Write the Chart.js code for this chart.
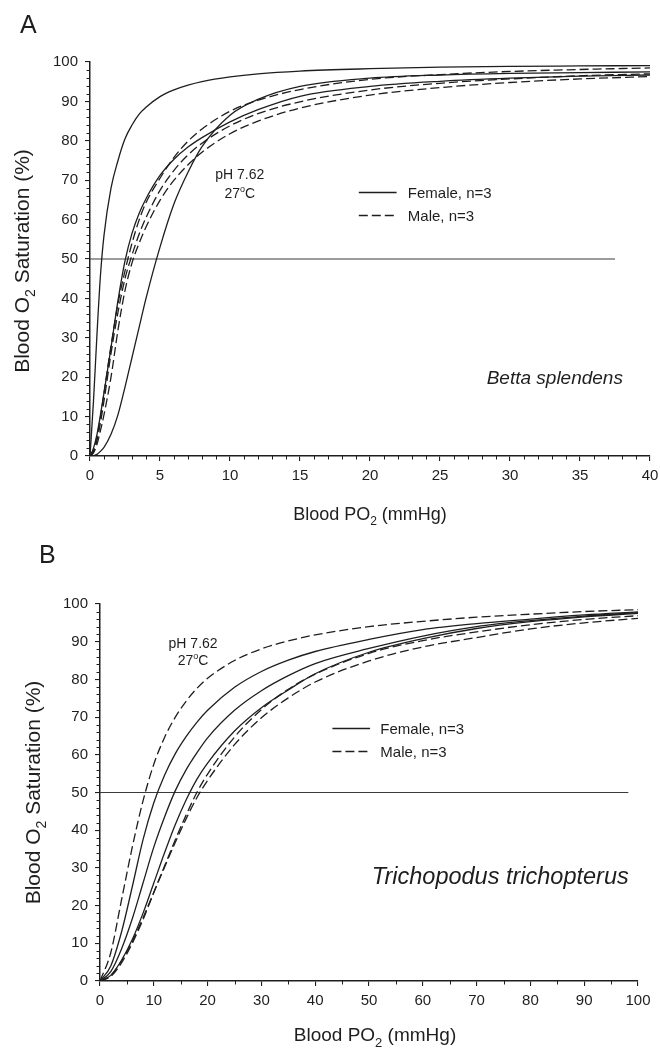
<!DOCTYPE html>
<html><head><meta charset="utf-8">
<script src="https://cdn.jsdelivr.net/npm/chart.js@4.4.1/dist/chart.umd.min.js"></script>
<style>
html,body{margin:0;padding:0;background:#fff;}
#wrap{position:relative;width:660px;height:1048px;overflow:hidden;background:#fff;}
#wrapA{position:absolute;left:0;top:0;width:660px;height:525px;}
#wrapB{position:absolute;left:0;top:525px;width:660px;height:523px;}
</style></head><body>
<div id="wrap"><div id="wrapA"><canvas id="cA" width="660" height="525"></canvas></div><div id="wrapB"><canvas id="cB" width="660" height="523"></canvas></div></div>
<script>
// ---------------- Panel A: Betta splendens ----------------
const pA_x = [0, 0.25, 0.5, 0.75, 1, 1.5, 2, 2.5, 3, 3.5, 4, 5, 6, 7, 8, 10, 12, 15, 20, 25, 30, 35, 40];
const A_female1 = [0, 14, 31, 46, 56, 68, 75, 80.5, 84, 86.7, 88.5, 91.2, 92.9, 94.1, 95, 96.2, 97, 97.7, 98.3, 98.7, 98.9, 99.0, 99.1];
const A_female2 = [0, 2, 5.5, 10.5, 16, 27.5, 39.5, 49.5, 56.5, 61.5, 65.3, 71.2, 75.3, 78.4, 80.8, 84.8, 87.9, 91.3, 93.8, 95.1, 95.9, 96.4, 96.7];
const A_female3 = [0, 0.1, 0.4, 1.2, 2.2, 5.5, 10.5, 17.5, 25, 32.5, 40, 53, 64, 72, 78.5, 86.5, 90.5, 93.8, 95.9, 96.7, 97.1, 97.3, 97.5];
const A_male1 = [0, 1.5, 5, 10, 16, 28, 38.7, 47, 54, 59.8, 64.3, 70.5, 75.8, 79.9, 83, 87.5, 90.3, 93.0, 95.6, 96.8, 97.6, 98.1, 98.5];
const A_male2 = [0, 1, 4, 8.5, 14, 26, 36.5, 45, 51, 56.2, 60.5, 67.4, 72.5, 76.4, 79.4, 83.8, 86.9, 89.9, 92.9, 94.6, 95.7, 96.5, 97.0];
const A_male3 = [0, 0.8, 3, 6.5, 10.5, 20, 32, 42, 49, 53.9, 58.1, 64.9, 70, 73.9, 77.1, 81.8, 85, 88.3, 91.6, 93.5, 94.8, 95.7, 96.3];
const A_ref_x = [0, 37.5];
const A_ref_y = [50, 50];
const A_xTicks = [0, 5, 10, 15, 20, 25, 30, 35, 40];
const A_yTicks = [0, 10, 20, 30, 40, 50, 60, 70, 80, 90, 100];

// ---------------- Panel B: Trichopodus trichopterus ----------------
const pB_x = [0, 2, 4, 6, 8, 10, 12, 14, 16, 18, 20, 25, 30, 35, 40, 50, 60, 70, 80, 90, 100];
const B_female1 = [0, 4, 13, 25, 37.5, 47.3, 54.6, 60.3, 64.8, 68.6, 71.8, 77.9, 82.1, 85.1, 87.4, 90.6, 93.2, 94.8, 96.0, 97.1, 97.9];
const B_female2 = [0, 2.5, 8.5, 16.5, 26, 35.5, 43.5, 50.5, 56, 60.5, 64.5, 71.8, 77, 81, 84.2, 88.2, 91.5, 94, 95.6, 96.8, 97.7];
const B_female3 = [0, 1.5, 5.5, 11, 18, 26, 34, 41.5, 48, 53.5, 57.8, 66.3, 72.5, 77.2, 81.5, 87.2, 90.8, 93.5, 95.3, 96.6, 97.5];
const B_male1 = [0, 7.5, 21.5, 35.5, 47.8, 57.5, 64.6, 70, 74.2, 77.6, 80.3, 85, 88.1, 90.2, 91.8, 94, 95.4, 96.5, 97.3, 98.0, 98.5];
const B_male2 = [0, 1.2, 4.8, 10, 16.3, 23.5, 30.5, 37.5, 44, 50, 54.9, 64.7, 72, 77.4, 81.4, 86.9, 90.3, 92.6, 94.5, 95.9, 96.9];
const B_male3 = [0, 1.5, 5.3, 10.5, 16.8, 23.5, 30.2, 36.8, 43, 48.6, 53.2, 62.7, 69.8, 75.1, 79.3, 84.9, 88.6, 91.1, 93.4, 95.0, 96.2];
const B_ref_x = [0, 98.2];
const B_ref_y = [50, 50];
const B_xTicks = [0, 10, 20, 30, 40, 50, 60, 70, 80, 90, 100];
const B_yTicks = [0, 10, 20, 30, 40, 50, 60, 70, 80, 90, 100];

const legendLabels = ['Female, n=3', 'Male, n=3'];
const condLine1 = 'pH 7.62';
const speciesA = 'Betta splendens';
const speciesB = 'Trichopodus trichopterus';

// ---------------- helpers ----------------
const FAM = '"Liberation Sans", Arial, Helvetica, sans-serif';
const INK = '#1e1e1e';
const DASH = [9, 4];

function pts(xs, ys) { return xs.map((x, i) => ({ x: x, y: ys[i] })); }
function curve(xs, ys, dashed, label) {
  return { label: label, data: pts(xs, ys), borderColor: INK, borderWidth: 1.3,
    borderDash: dashed ? DASH : [], pointRadius: 0, fill: false,
    cubicInterpolationMode: 'monotone', borderCapStyle: 'butt' };
}
function refLine(xs, ys) {
  return { label: 'ref', data: pts(xs, ys), borderColor: '#3a3a3a', borderWidth: 1.1,
    pointRadius: 0, fill: false, tension: 0 };
}

function drawRich(ctx, parts, x, y, size, align, italic) {
  const it = italic ? 'italic ' : '';
  const small = Math.round(size * 0.66);
  let w = 0;
  parts.forEach(p => { ctx.font = it + (p[1] === 'n' ? size : small) + 'px ' + FAM; p.w = ctx.measureText(p[0]).width; w += p.w; });
  let cx = align === 'center' ? x - w / 2 : (align === 'right' ? x - w : x);
  ctx.textBaseline = 'alphabetic';
  ctx.textAlign = 'left';
  parts.forEach(p => {
    ctx.font = it + (p[1] === 'n' ? size : small) + 'px ' + FAM;
    const dy = p[1] === 'sub' ? size * 0.30 : (p[1] === 'sup' ? -size * 0.42 : 0);
    ctx.fillText(p[0], cx, y + dy);
    cx += p.w;
  });
}

const decorPlugin = {
  id: 'decor',
  afterDraw(chart, args, o) {
    const ctx = chart.ctx, xs = chart.scales.x, ys = chart.scales.y;
    ctx.save();
    ctx.fillStyle = INK; ctx.strokeStyle = INK;
    // minor ticks
    ctx.lineWidth = 1;
    for (let v = xs.min; v <= xs.max + 1e-9; v += o.xMinor) {
      if (Math.abs(v / o.xMajor - Math.round(v / o.xMajor)) < 1e-6) continue;
      const px = Math.round(xs.getPixelForValue(v)) + 0.5;
      ctx.beginPath(); ctx.moveTo(px, ys.bottom); ctx.lineTo(px, ys.bottom + 3.5); ctx.stroke();
    }
    for (let v = ys.min; v <= ys.max + 1e-9; v += o.yMinor) {
      if (Math.abs(v / o.yMajor - Math.round(v / o.yMajor)) < 1e-6) continue;
      const py = Math.round(ys.getPixelForValue(v)) + 0.5;
      ctx.beginPath(); ctx.moveTo(xs.left, py); ctx.lineTo(xs.left - 3.5, py); ctx.stroke();
    }
    // panel letter
    drawRich(ctx, [[o.letter, 'n']], o.letterX, o.letterY, 25, 'left');
    // axis titles
    drawRich(ctx, [['Blood PO', 'n'], ['2', 'sub'], [' (mmHg)', 'n']], (xs.left + xs.right) / 2 + o.xTitleDx, o.xTitleY, o.xTitleSize, 'center');
    ctx.save();
    ctx.translate(o.yTitleX, (ys.top + ys.bottom) / 2 + o.yTitleDy);
    ctx.rotate(-Math.PI / 2);
    drawRich(ctx, [['Blood O', 'n'], ['2', 'sub'], [' Saturation (%)', 'n']], 0, 0, o.yTitleSize, 'center');
    ctx.restore();
    // condition annotation
    const ax = xs.getPixelForValue(o.condAt[0]);
    drawRich(ctx, [[condLine1, 'n']], ax, ys.getPixelForValue(o.condAt[1]), 14, 'center');
    drawRich(ctx, [['27', 'n'], ['o', 'sup'], ['C', 'n']], ax, ys.getPixelForValue(o.condAt[2]), 14, 'center');
    // legend
    const lx1 = xs.getPixelForValue(o.legAt[0]), lx2 = xs.getPixelForValue(o.legAt[1]), tx = xs.getPixelForValue(o.legAt[2]);
    [o.legAt[3], o.legAt[4]].forEach((yv, i) => {
      const py = Math.round(ys.getPixelForValue(yv)) + 0.5;
      ctx.lineWidth = 1.4; ctx.setLineDash(i === 0 ? [] : DASH);
      ctx.beginPath(); ctx.moveTo(lx1, py); ctx.lineTo(lx2, py); ctx.stroke();
      ctx.setLineDash([]);
      drawRich(ctx, [[legendLabels[i], 'n']], tx, py + 5, 15, 'left');
    });
    // species
    drawRich(ctx, [[o.species, 'n']], xs.getPixelForValue(o.spAt[0]), ys.getPixelForValue(o.spAt[1]), o.spSize, 'center', true);
    ctx.restore();
  }
};

function makeChart(id, cfg) {
  const datasets = [
    curve(cfg.px, cfg.f1, false, 'Female 1'), curve(cfg.px, cfg.f2, false, 'Female 2'), curve(cfg.px, cfg.f3, false, 'Female 3'),
    curve(cfg.px, cfg.m1, true, 'Male 1'), curve(cfg.px, cfg.m2, true, 'Male 2'), curve(cfg.px, cfg.m3, true, 'Male 3'),
    refLine(cfg.rx, cfg.ry)
  ];
  const tickFont = { family: FAM, size: 15 };
  return new Chart(document.getElementById(id), {
    type: 'line',
    data: { datasets: datasets },
    options: {
      responsive: false, animation: false, devicePixelRatio: 1,
      layout: { padding: cfg.pad },
      plugins: { legend: { display: false }, tooltip: { enabled: false }, decor: cfg.decor },
      scales: {
        x: { type: 'linear', min: cfg.xTicks[0], max: cfg.xTicks[cfg.xTicks.length - 1],
          afterFit(s) { s.height = cfg.xH; s.paddingLeft = 0; s.paddingRight = 0; },
          afterBuildTicks(s) { s.ticks = cfg.xTicks.map(v => ({ value: v })); },
          ticks: { font: tickFont, color: INK, padding: 6, maxRotation: 0, autoSkip: false },
          grid: { drawOnChartArea: false, drawTicks: true, tickLength: 5, color: INK, lineWidth: 1.1 },
          border: { color: INK, width: 1.5 } },
        y: { min: 0, max: 100,
          afterFit(s) { s.width = cfg.yW; s.paddingTop = 0; s.paddingBottom = 0; },
          afterBuildTicks(s) { s.ticks = cfg.yTicks.map(v => ({ value: v })); },
          ticks: { font: tickFont, color: INK, padding: 7, autoSkip: false },
          grid: { drawOnChartArea: false, drawTicks: true, tickLength: 5, color: INK, lineWidth: 1.1 },
          border: { color: INK, width: 1.5 } }
      }
    },
    plugins: [decorPlugin]
  });
}

makeChart('cA', {
  px: pA_x, f1: A_female1, f2: A_female2, f3: A_female3, m1: A_male1, m2: A_male2, m3: A_male3,
  rx: A_ref_x, ry: A_ref_y, xTicks: A_xTicks, yTicks: A_yTicks,
  pad: { left: 0, right: 10, top: 62, bottom: 0 }, xH: 69, yW: 90,
  decor: { xMinor: 1, xMajor: 5, yMinor: 2, yMajor: 10, letter: 'A', letterX: 20, letterY: 33,
    xTitleDx: 0, xTitleY: 520, xTitleSize: 18, yTitleX: 29, yTitleDy: 2, yTitleSize: 21,
    condAt: [10.7, 70.4, 65.6], legAt: [19.2, 21.9, 22.7, 67, 61.2],
    species: speciesA, spAt: [33.2, 18.2], spSize: 19 }
});
makeChart('cB', {
  px: pB_x, f1: B_female1, f2: B_female2, f3: B_female3, m1: B_male1, m2: B_male2, m3: B_male3,
  rx: B_ref_x, ry: B_ref_y, xTicks: B_xTicks, yTicks: B_yTicks,
  pad: { left: 0, right: 22, top: 79, bottom: 0 }, xH: 67, yW: 100,
  decor: { xMinor: 5, xMajor: 10, yMinor: 2, yMajor: 10, letter: 'B', letterX: 39, letterY: 38,
    xTitleDx: 6, xTitleY: 516, xTitleSize: 19, yTitleX: 40, yTitleDy: 0, yTitleSize: 21,
    condAt: [17.3, 88.4, 83.8], legAt: [43.2, 50.2, 52.1, 67.2, 60.9],
    species: speciesB, spAt: [74.4, 25.8], spSize: 23.5 }
});
</script>
</body></html>
